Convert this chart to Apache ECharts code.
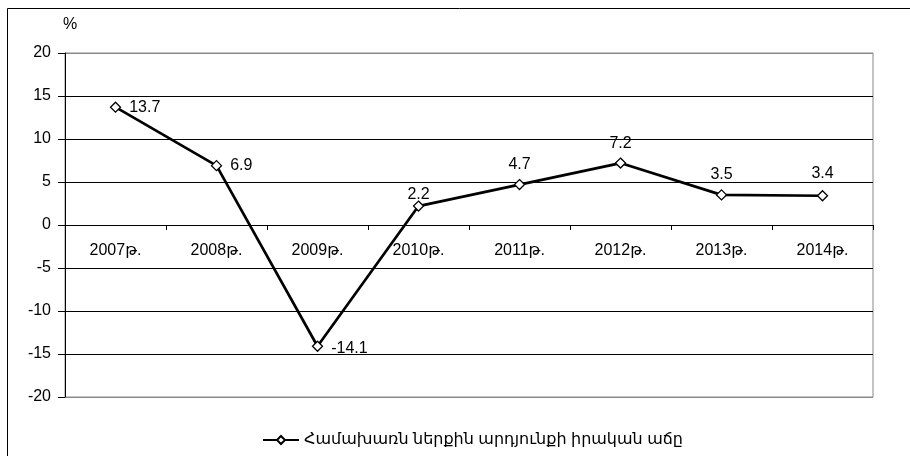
<!DOCTYPE html>
<html><head><meta charset="utf-8">
<script src="https://cdn.jsdelivr.net/npm/echarts@6/dist/echarts.min.js"></script>
<style>html,body{margin:0;padding:0;background:#fff}#c{width:910px;height:456px}</style>
</head><body><div id="c"></div>
<script>
const categories = ['2007թ.','2008թ.','2009թ.','2010թ.','2011թ.','2012թ.','2013թ.','2014թ.'];
const growth = [13.7, 6.9, -14.1, 2.2, 4.7, 7.2, 3.5, 3.4];
const yTicks = [-20, -15, -10, -5, 0, 5, 10, 15, 20];
const seriesName = 'Համախառն ներքին արդյունքի իրական աճը';
const labelPos = ['right','right','right','top','top','top','top','top'];
const labelOffsets = [[4,0],[4,0],[4,2],[0,6],[0,-2],[0,-2],[0,-3],[0,-5]];

const FONT = 'Liberation Sans, Arial, DejaVu Sans, sans-serif';
const chart = echarts.init(document.getElementById('c'));
chart.setOption({
  animation: false,
  textStyle: {fontFamily: FONT},
  graphic: [{type:'rect', shape:{x:7.5,y:8.5,width:960,height:500}, style:{fill:'none',stroke:'#000',lineWidth:1}, z:-1}],
  grid: {left:65, right:37, top:53, bottom:59, show:true, borderColor:'#888', borderWidth:1},
  xAxis: {
    type:'category', data: categories, boundaryGap:true,
    axisLine:{onZero:true, lineStyle:{color:'#000', width:1}},
    axisTick:{show:true, inside:false, length:5, lineStyle:{color:'#000'}},
    axisLabel:{color:'#000', fontSize:16, margin:-154, fontFamily:FONT},
    splitLine:{show:false}
  },
  yAxis: {
    type:'value', min:yTicks[0], max:yTicks[yTicks.length-1], interval:5,
    name:'%', nameLocation:'end', nameGap:20,
    nameTextStyle:{color:'#000', fontSize:16, align:'left', padding:[0,0,0,-2], fontFamily:FONT},
    axisLine:{show:true, lineStyle:{color:'#000'}},
    axisTick:{show:true, length:7, lineStyle:{color:'#000'}},
    axisLabel:{color:'#000', fontSize:16, margin:14, fontFamily:FONT},
    splitLine:{show:true, lineStyle:{color:['#888','#000','#000','#000','#000','#000','#000','#000','#888'], width:1}}
  },
  legend: {
    top: 427, left:257, itemWidth:36, itemHeight:10, itemGap:8,
    textStyle:{color:'#000', fontSize:16, fontFamily:FONT},
    data:[seriesName]
  },
  series: [{
    name: seriesName, type:'line',
    data: growth.map((v,i)=>({value:v, label:{position:labelPos[i], offset:labelOffsets[i]}})),
    symbol:'diamond', symbolSize:10,
    itemStyle:{color:'#fff', borderColor:'#000', borderWidth:1.3},
    lineStyle:{color:'#000', width:2.7},
    label:{show:true, color:'#000', fontSize:16, distance:4, fontFamily:FONT},
    z:3
  }]
});
</script></body></html>
